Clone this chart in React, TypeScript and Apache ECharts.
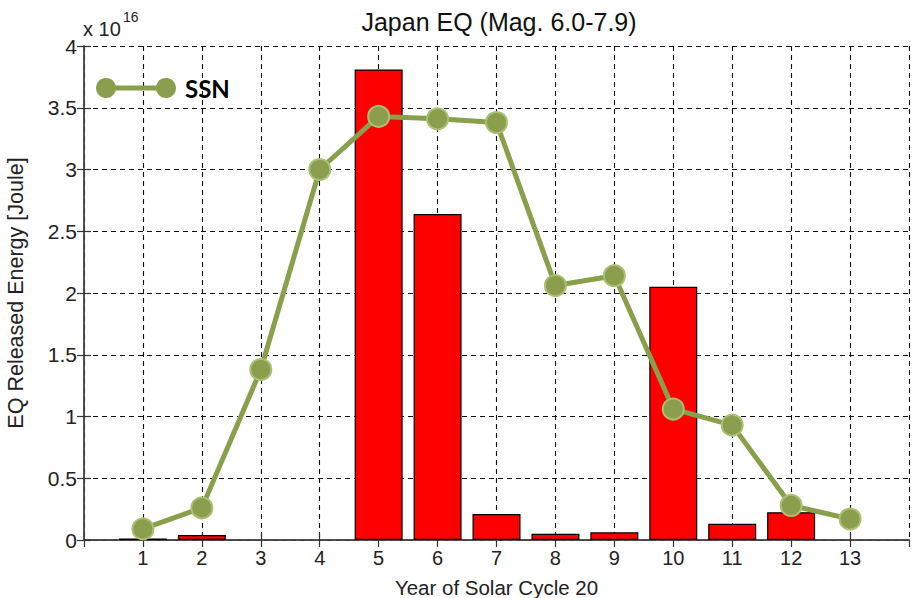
import React, { useEffect, useRef } from "react";
import * as echarts from "echarts";

const years = [1, 2, 3, 4, 5, 6, 7, 8, 9, 10, 11, 12, 13];
const eqEnergy = [0.012, 0.04, null, null, 3.81, 2.64, 0.21, 0.05, 0.062, 2.05, 0.132, 0.225, null];
const ssn = [0.09, 0.26, 1.38, 3.0, 3.43, 3.41, 3.38, 2.06, 2.14, 1.06, 0.93, 0.28, 0.17];
const titleText = "Japan EQ (Mag. 6.0-7.9)";
const xName = "Year of Solar Cycle 20";
const yName = "EQ Released Energy [Joule]";
const legendName = "SSN";
const scaleBase = "x 10";
const scaleExp = "16";

const FONT = "'Liberation Sans', Arial, sans-serif";
const GREEN = "#88a04b";

export default function App() {
  const ref = useRef<HTMLDivElement>(null);
  useEffect(() => {
    document.body.style.margin = "0";
    const chart = echarts.init(ref.current!, null, { renderer: "svg" });
    const grid = { left: 84, right: 7, top: 46, bottom: 58, show: false, outerBoundsMode: "none", containLabel: false };
    const dashed = { show: true, lineStyle: { color: "#111", type: [5, 4], width: 1.1 } };
    const axisLine = { show: true, lineStyle: { color: "#444", width: 1.5 } };
    const tick = { show: true, inside: true, length: 7, lineStyle: { color: "#333", width: 1.2 } };
    chart.setOption({
      animation: false,
      backgroundColor: "#fff",
      title: {
        text: titleText,
        left: 494,
        top: 4,
        textAlign: "center",
        textStyle: { fontFamily: FONT, fontSize: 25, fontWeight: "normal", color: "#111" },
      },
      grid,
      xAxis: [
        {
          type: "value",
          min: 0,
          max: 14,
          interval: 1,
          name: xName,
          nameLocation: "middle",
          nameGap: 36,
          nameTextStyle: { fontFamily: FONT, fontSize: 20.5, color: "#222", lineHeight: 22 },
          axisLine,
          axisTick: tick,
          axisLabel: {
            showMinLabel: false,
            showMaxLabel: false,
            margin: 8,
            fontFamily: FONT,
            fontSize: 20,
            color: "#222",
            formatter: (v: number) => (v >= 1 && v <= 13 ? String(v) : ""),
          },
          splitLine: dashed,
        },
        {
          type: "value",
          position: "top",
          min: 0,
          max: 14,
          interval: 1,
          axisLine,
          axisTick: tick,
          axisLabel: { show: false },
          splitLine: { show: false },
        },
      ],
      yAxis: [
        {
          type: "value",
          min: 0,
          max: 4,
          interval: 0.5,
          name: yName,
          nameLocation: "middle",
          nameGap: 57,
          nameRotate: 90,
          nameTextStyle: { fontFamily: FONT, fontSize: 21.5, color: "#222" },
          axisLine,
          axisTick: tick,
          axisLabel: { margin: 7, fontFamily: FONT, fontSize: 21, color: "#222" },
          splitLine: dashed,
        },
        {
          type: "value",
          position: "right",
          min: 0,
          max: 4,
          interval: 0.5,
          axisLine,
          axisTick: tick,
          axisLabel: { show: false },
          splitLine: { show: false },
        },
      ],
      series: [
        {
          type: "bar",
          xAxisIndex: 0,
          yAxisIndex: 0,
          barWidth: 48,
          data: years.map((x, i) => [x, eqEnergy[i]]),
          itemStyle: { color: "#ff0000", borderColor: "#000", borderWidth: 1.2 },
          z: 2,
        },
        {
          type: "line",
          name: legendName,
          xAxisIndex: 0,
          yAxisIndex: 0,
          data: years.map((x, i) => [x, ssn[i]]),
          symbol: "circle",
          symbolSize: 21,
          lineStyle: { color: GREEN, width: 5 },
          itemStyle: { color: "#8a9e4e", borderColor: "#a9c172", borderWidth: 2 },
          z: 3,
        },
      ],
      graphic: [
        {
          type: "text",
          x: 83,
          y: 29,
          style: { text: scaleBase, fontFamily: FONT, fontSize: 20, fill: "#222", verticalAlign: "middle" },
        },
        {
          type: "text",
          x: 123,
          y: 17,
          style: { text: scaleExp, fontFamily: FONT, fontSize: 14, fill: "#222", verticalAlign: "middle" },
        },
        {
          type: "line",
          shape: { x1: 106, y1: 88, x2: 166, y2: 88 },
          style: { stroke: GREEN, lineWidth: 5 },
          z: 10,
        },
        {
          type: "circle",
          shape: { cx: 106, cy: 88, r: 10 },
          style: { fill: "#8a9e4e" },
          z: 11,
        },
        {
          type: "circle",
          shape: { cx: 166, cy: 88, r: 10 },
          style: { fill: "#8a9e4e" },
          z: 11,
        },
        {
          type: "text",
          x: 185,
          y: 88,
          style: {
            text: legendName,
            fontFamily: "Lato, 'Open Sans', sans-serif",
            fontWeight: "bold",
            fontSize: 24,
            fill: "#000",
            verticalAlign: "middle",
          },
          z: 11,
        },
      ],
    });
    return () => chart.dispose();
  }, []);
  return <div ref={ref} style={{ width: 916, height: 598 }} />;
}
